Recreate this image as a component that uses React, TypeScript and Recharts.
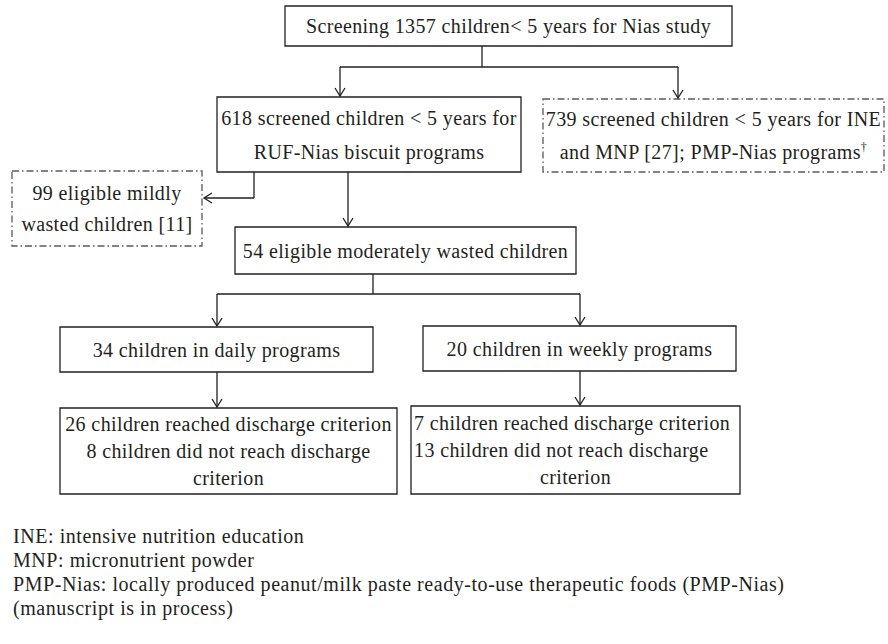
import React from 'react';
import { ComposedChart, XAxis, YAxis, ReferenceArea, ReferenceLine, Scatter } from 'recharts';

const W = 888;
const H = 644;
const INK = '#231f20';
const DASH_INK = '#58595b';
const FONT = '"Liberation Serif", "Times New Roman", serif';
const BOX_FS = 20;
const BOX_LS = 0.38;
const NOTE_FS = 20;
const NOTE_LS = 0.55;

// box texts (one entry per line)
const boxNames = ['screen', 'ruf', 'other', 'mild', 'moderate', 'daily', 'weekly', 'dailyOut', 'weeklyOut'];
const boxTexts = [
  ['Screening 1357 children< 5 years for Nias study'],
  ['618 screened children < 5 years for', 'RUF-Nias biscuit programs'],
  ['739 screened children < 5 years for INE', 'and MNP [27]; PMP-Nias programs†'],
  ['99 eligible mildly', 'wasted children [11]'],
  ['54 eligible moderately wasted children'],
  ['34 children in daily programs'],
  ['20 children in weekly programs'],
  ['26 children reached discharge criterion', '8 children did not reach discharge', 'criterion'],
  ['7 children reached discharge criterion', '13 children did not reach discharge', 'criterion'],
];
const boxDashed = [false, false, true, true, false, false, false, false, false];

// box layout: [left, top, right, bottom], line gap
const boxRects = [
  [285, 6, 732, 46],
  [217, 97, 521, 172],
  [543, 99, 884, 172],
  [12, 171, 202, 246],
  [235, 227, 576, 274],
  [60, 327, 373, 372],
  [423, 326, 736, 371],
  [60, 408, 397, 494],
  [411, 406, 740, 494],
];
const boxGap = [0, 34, 33, 31, 0, 0, 0, 27, 27];
const boxAlign = ['c', 'c', 'c', 'c', 'c', 'c', 'c', 'c', 'llc'];

// connectors
const segments = [
  [482, 46, 482, 67],
  [340, 67, 678, 67],
  [340, 67, 340, 96],
  [678, 67, 678, 98],
  [254, 172, 254, 198],
  [254, 198, 204, 198],
  [348, 172, 348, 226],
  [373, 274, 373, 294],
  [217, 294, 580, 294],
  [217, 294, 217, 326],
  [580, 294, 580, 325],
  [217, 372, 217, 407],
  [580, 371, 580, 405],
];
const arrowTips = [
  { x: 340, y: 96, dir: 'down' },
  { x: 678, y: 98, dir: 'down' },
  { x: 204, y: 198, dir: 'left' },
  { x: 348, y: 226, dir: 'down' },
  { x: 217, y: 326, dir: 'down' },
  { x: 580, y: 325, dir: 'down' },
  { x: 217, y: 407, dir: 'down' },
  { x: 580, y: 405, dir: 'down' },
];

// footnotes
const notes = [
  'INE: intensive nutrition education',
  'MNP: micronutrient powder',
  'PMP-Nias: locally produced peanut/milk paste ready-to-use therapeutic foods (PMP-Nias)',
  '(manuscript is in process)',
];
const noteBaselines = [543, 567, 591, 615];

const textPoints = boxTexts.flatMap((lines, i) => {
  const [l, t, r, b] = boxRects[i];
  const cy = (t + b) / 2 + 1;
  const n = lines.length;
  return lines.map((line, k) => {
    const left = boxAlign[i][k] === 'l';
    return {
      x: left ? l + 3 : (l + r) / 2,
      y: cy + (k - (n - 1) / 2) * boxGap[i] + 6,
      text: line,
      anchor: left ? 'start' : 'middle',
      fs: BOX_FS,
      ls: BOX_LS,
    };
  });
});

const notePoints = notes.map((text, i) => ({
  x: 13,
  y: noteBaselines[i],
  text,
  anchor: 'start',
  fs: NOTE_FS,
  ls: NOTE_LS,
}));

const renderText = (props: any) => {
  const { cx, cy, payload } = props;
  const txt: string = payload.text;
  const dagger = txt.endsWith('†');
  return (
    <text
      x={cx}
      y={cy}
      textAnchor={payload.anchor}
      fill={INK}
      fontFamily={FONT}
      fontSize={payload.fs}
      letterSpacing={payload.ls}
    >
      {dagger ? txt.slice(0, -1) : txt}
      {dagger && (
        <tspan fontSize={12} dy={-8} fill={INK}>†</tspan>
      )}
    </text>
  );
};

const renderArrow = (props: any) => {
  const { cx, cy, payload } = props;
  const d =
    payload.dir === 'left'
      ? `M${cx + 8},${cy - 5} L${cx},${cy} L${cx + 8},${cy + 5}`
      : `M${cx - 5},${cy - 8} L${cx},${cy} L${cx + 5},${cy - 8}`;
  return <path d={d} fill="none" stroke={INK} strokeWidth={1.3} />;
};

const App: React.FC = () => {
  return (
    <div style={{ position: 'absolute', left: 0, top: 0, width: W, height: H, background: '#fff' }}>
      <ComposedChart width={W} height={H} margin={{ top: 0, right: 0, bottom: 0, left: 0 }}>
        <XAxis type="number" dataKey="x" domain={[0, W]} hide allowDataOverflow />
        <YAxis type="number" dataKey="y" domain={[0, H]} reversed hide allowDataOverflow />

        {boxRects.map(([l, t, r, b], i) => (
          <ReferenceArea
            key={boxNames[i]}
            x1={l}
            x2={r}
            y1={t}
            y2={b}
            fill="none"
            fillOpacity={0}
            stroke={boxDashed[i] ? DASH_INK : INK}
            strokeWidth={1.3}
            strokeDasharray={boxDashed[i] ? '7 3 1.5 3' : undefined}
            ifOverflow="visible"
          />
        ))}

        {segments.map(([x1, y1, x2, y2], i) => (
          <ReferenceLine
            key={'seg' + i}
            segment={[{ x: x1, y: y1 }, { x: x2, y: y2 }]}
            stroke={INK}
            strokeWidth={1.3}
            ifOverflow="visible"
          />
        ))}

        <Scatter data={arrowTips} dataKey="y" shape={renderArrow} isAnimationActive={false} />
        <Scatter data={textPoints} dataKey="y" shape={renderText} isAnimationActive={false} />
        <Scatter data={notePoints} dataKey="y" shape={renderText} isAnimationActive={false} />
      </ComposedChart>
    </div>
  );
};

export default App;
